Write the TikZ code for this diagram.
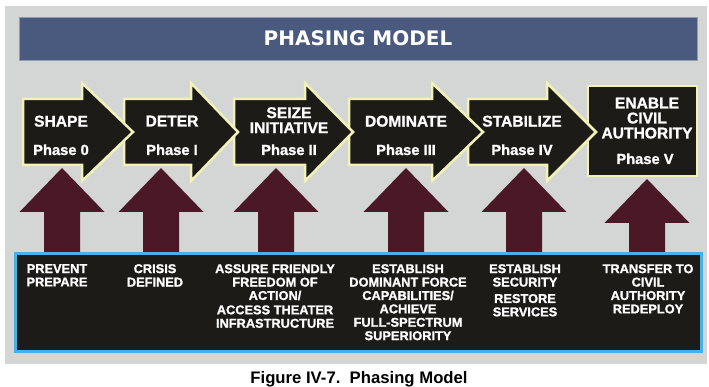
\documentclass[tikz,border=0pt]{standalone}
\usepackage{fontspec}
\setmainfont{Liberation Sans}
\newfontfamily\headfont{DejaVu Sans}
\newfontfamily\heavyfont{Liberation Sans Bold}[FakeBold=1.2]

\definecolor{panelgray}{HTML}{D4D6D5}
\definecolor{titleblue}{HTML}{4A5A7E}
\definecolor{titleedge}{HTML}{8F9BB3}
\definecolor{phaseblack}{HTML}{1C1B18}
\definecolor{phaseedge}{HTML}{F2F1B8}
\definecolor{supportred}{HTML}{4B1828}
\definecolor{taskblue}{HTML}{4AB0E2}

\begin{document}
\begin{tikzpicture}[
    x=1pt, y=-1pt,
    chevron/.style={fill=phaseblack, draw=phaseedge, line width=2.5pt},
    support/.style={fill=supportred},
    phasename/.style={text=white, align=center, inner sep=0pt, anchor=north, font=\heavyfont\fontsize{15.6}{15}\selectfont},
    phasenum/.style={text=white, inner sep=0pt, anchor=base, font=\heavyfont\fontsize{14.7}{17}\selectfont},
    tasktext/.style={text=white, align=center, inner sep=0pt, anchor=north, font=\heavyfont\fontsize{12.8}{13.4}\selectfont}]
\useasboundingbox (0,0) rectangle (709,387);
\fill[white] (0,0) rectangle (709,387);
\fill[panelgray] (5,6) rectangle (707,364);

% Title bar
\node[fill=titleblue, draw=titleedge, line width=0.8pt, minimum width=678pt, minimum height=43pt, text=white, font=\headfont\bfseries\fontsize{20}{24}\selectfont] (title) at (358,38.5) {PHASING MODEL};

% Supporting arrows, drawn before the chevrons and the task box
\foreach \x in {62,161,276,406,524}
  \fill[support] (\x-18,254) -- (\x-18,212) -- (\x-42.5,212) -- (\x,168) -- (\x+42.5,212) -- (\x+18,212) -- (\x+18,254) -- cycle;
\fill[support] (629,254) -- (629,223) -- (604.5,223) -- (647,179) -- (689.5,223) -- (665,223) -- (665,254) -- cycle;

% Phase chevrons, last one first so each head lies over the next body
\filldraw[chevron] (588,86) rectangle (697,176);
\filldraw[chevron] (468,99) -- (547,99) -- (547,83) -- (596,132) -- (547,181) -- (547,165) -- (468,165) -- cycle;
\filldraw[chevron] (349,99) -- (432,99) -- (432,83) -- (483,132) -- (432,181) -- (432,165) -- (349,165) -- cycle;
\filldraw[chevron] (234,99) -- (305,99) -- (305,83) -- (353,132) -- (305,181) -- (305,165) -- (234,165) -- cycle;
\filldraw[chevron] (124,99) -- (191,99) -- (191,83) -- (238,132) -- (191,181) -- (191,165) -- (124,165) -- cycle;
\filldraw[chevron] (23,99) -- (82,99) -- (82,83) -- (133,132) -- (82,181) -- (82,165) -- (23,165) -- cycle;

% Phase names and numbers
\node[phasename] (shape) at (61,115.5) {SHAPE};
\node[phasenum] (phase0) at (61,155) {Phase 0};
\node[phasename] (deter) at (172,115.5) {DETER};
\node[phasenum] (phase1) at (172,155) {Phase I};
\node[phasename] (seize) at (289,107) {SEIZE\\INITIATIVE};
\node[phasenum] (phase2) at (289,155) {Phase II};
\node[phasename] (dominate) at (406,115.5) {DOMINATE};
\node[phasenum] (phase3) at (406,155) {Phase III};
\node[phasename] (stabilize) at (522,115.5) {STABILIZE};
\node[phasenum] (phase4) at (522,155) {Phase IV};
\node[phasename] (enable) at (647,97.5) {ENABLE\\CIVIL\\AUTHORITY};
\node[phasenum] (phase5) at (645,164) {Phase V};

% Task box along the bottom
\node[fill=phaseblack, draw=taskblue, line width=3pt, minimum width=686pt, minimum height=98pt] (tasks) at (358.5,302.5) {};
\node[tasktext] (prevent) at (57,264) {PREVENT\\PREPARE};
\node[tasktext] (crisis) at (155,264) {CRISIS\\DEFINED};
\node[tasktext] (assure) at (275,264) {ASSURE FRIENDLY\\FREEDOM OF\\ACTION/\\[1pt]ACCESS THEATER\\INFRASTRUCTURE};
\node[tasktext] (establish) at (408,264) {ESTABLISH\\DOMINANT FORCE\\CAPABILITIES/\\ACHIEVE\\FULL-SPECTRUM\\SUPERIORITY};
\node[tasktext] (security) at (525,264) {ESTABLISH\\SECURITY\\[3pt]RESTORE\\SERVICES};
\node[tasktext] (transfer) at (648,264) {TRANSFER TO\\CIVIL\\AUTHORITY\\REDEPLOY};

% Caption
\node[font=\bfseries\fontsize{16.7}{20}\selectfont, anchor=base, inner sep=0pt] (caption) at (359,383) {Figure IV-7.\ \ Phasing Model};
\end{tikzpicture}
\end{document}
